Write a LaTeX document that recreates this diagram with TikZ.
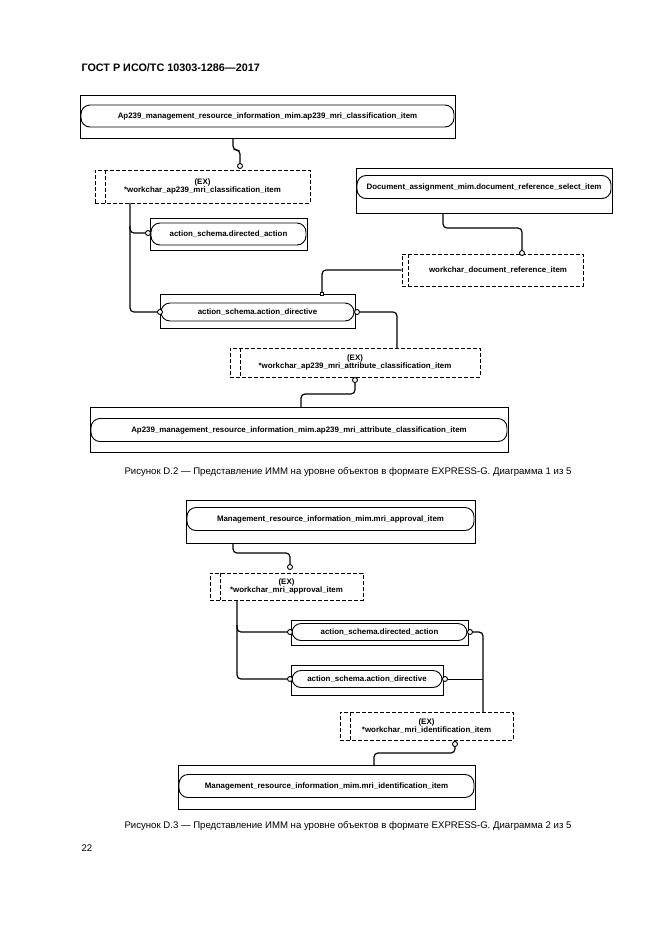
\documentclass[tikz,border=0pt]{standalone}
\usepackage{fontspec}
\setmainfont{Liberation Sans}
\begin{document}
\begin{tikzpicture}[x=1pt,y=-1pt,
  box/.style={draw,line width=0.9pt,inner sep=0pt},
  pill/.style={draw,line width=0.9pt,rounded corners=9pt,inner sep=0pt,font=\fontsize{7.9}{8}\selectfont\bfseries},
  exbox/.style={draw,dashed,dash pattern=on 4pt off 2pt,line width=0.8pt,inner sep=0pt,align=center,font=\fontsize{7.9}{8.5}\selectfont\bfseries},
  exline/.style={dashed,dash pattern=on 4pt off 2pt,line width=0.8pt},
  con/.style={line width=1.2pt,rounded corners=4pt},
  thin/.style={line width=0.8pt},
  dot/.style={circle,draw,fill=white,line width=0.9pt,inner sep=0pt,minimum size=5pt},
  sq/.style={rectangle,draw,fill=white,line width=0.7pt,inner sep=0pt,minimum size=3.5pt},
  captxt/.style={font=\fontsize{9.6}{11}\selectfont}]
\useasboundingbox (0,0) rectangle (661,935);
\fill[white] (0,0) rectangle (661,935);
\node[anchor=west,font=\fontsize{10.8}{12}\selectfont\bfseries] (hdr) at (78,68) {ГОСТ Р ИСО/ТС 10303-1286—2017};
\node[anchor=west,captxt] (pg) at (78,848) {22};

% ---------- Diagram 1
\node[box,minimum width=375,minimum height=43] (A) at (267.5,116.5) {};
\node[pill,minimum width=373,minimum height=22] (Ap) at (267.5,116) {Ap239\_management\_resource\_information\_mim.ap239\_mri\_classification\_item};

\node[exbox,minimum width=215,minimum height=33] (E1) at (202.5,186.5) {(EX)\\*workchar\_ap239\_mri\_classification\_item};
\draw[exline] (105,170) -- (105,203);
\node[dot] (d1) at (240,166) {};
\draw[con] (233,138) |- (240,150) -- (d1.north);

\node[box,minimum width=157,minimum height=32] (B) at (228.5,234) {};
\node[pill,minimum width=155,minimum height=22] (Bp) at (228.5,234) {action\_schema.directed\_action};

\node[box,minimum width=256,minimum height=45] (C) at (484,190.5) {};
\node[pill,minimum width=254,minimum height=23] (Cp) at (484,187) {Document\_assignment\_mim.document\_reference\_select\_item};

\node[exbox,minimum width=181,minimum height=32] (W) at (492.5,270) {};
\node[font=\fontsize{7.9}{8.5}\selectfont\bfseries] (Wt) at (498,270) {workchar\_document\_reference\_item};
\draw[exline] (408,254) -- (408,286);
\node[dot] (d2) at (522,253) {};
\draw[con] (443,213) |- (522,228) -- (d2.north);

\node[box,minimum width=195,minimum height=34] (D) at (257.5,311) {};
\node[pill,minimum width=193,minimum height=18] (Dp) at (257.5,312) {action\_schema.action\_directive};
\node[sq] (s1) at (322,294) {};
\draw[con] (W.west) -| (s1.north);

\node[dot] (d3) at (160,312) {};
\node[dot] (d4) at (148,233) {};
\draw[con] (130,203) |- (d3.west);
\draw[con] (130,226) |- (d4.west);
\node[dot] (d5) at (357,312) {};

\node[exbox,minimum width=250,minimum height=29] (E2) at (355,362.5) {(EX)\\*workchar\_ap239\_mri\_attribute\_classification\_item};
\draw[exline] (240,348) -- (240,377);
\draw[con] (d5.east) -| (397,348);

\node[box,minimum width=418,minimum height=45] (F) at (299,429.5) {};
\node[pill,minimum width=416,minimum height=23] (Fp) at (299,430) {Ap239\_management\_resource\_information\_mim.ap239\_mri\_attribute\_classification\_item};
\node[dot] (d6) at (355,380) {};
\draw[con] (d6.south) |- (301,394) -- (301,407);

\node[captxt] (cap1) at (348,472) {Рисунок D.2 — Представление ИММ на уровне объектов в формате EXPRESS-G. Диаграмма 1 из 5};

% ---------- Diagram 2
\node[box,minimum width=289,minimum height=43] (M1) at (330.5,521.5) {};
\node[pill,minimum width=287,minimum height=23] (M1p) at (330.5,519) {Management\_resource\_information\_mim.mri\_approval\_item};

\node[exbox,minimum width=153,minimum height=27] (E3) at (286.5,586.5) {(EX)\\*workchar\_mri\_approval\_item};
\draw[exline] (220,573) -- (220,600);
\node[dot] (d7) at (290,567) {};
\draw[con] (233,543) |- (290,553) -- (d7.north);

\node[box,minimum width=177,minimum height=25] (G) at (379.5,632.5) {};
\node[pill,minimum width=175,minimum height=17] (Gp) at (379.5,632) {action\_schema.directed\_action};
\node[box,minimum width=152,minimum height=30] (H) at (367,680) {};
\node[pill,minimum width=150,minimum height=17] (Hp) at (367,679) {action\_schema.action\_directive};

\node[dot] (d8) at (290,632) {};
\node[dot] (d9) at (290,679) {};
\draw[con] (237,600) |- (d9.west);
\draw[con] (237,625) |- (d8.west);
\node[dot] (d10) at (470,632) {};
\node[dot] (d11) at (445,679) {};

\node[exbox,minimum width=173,minimum height=28] (E4) at (426.5,726) {(EX)\\*workchar\_mri\_identification\_item};
\draw[exline] (350,712) -- (350,740);
\draw[con] (d10.east) -| (483,712);
\draw[thin] (d11.east) -- (483,679);

\node[box,minimum width=297,minimum height=44] (M2) at (326.5,787) {};
\node[pill,minimum width=295,minimum height=23] (M2p) at (326.5,786) {Management\_resource\_information\_mim.mri\_identification\_item};
\node[dot] (d12) at (455,744) {};
\draw[con] (d12.south) |- (374,753) -- (374,765);

\node[captxt] (cap2) at (348,826) {Рисунок D.3 — Представление ИММ на уровне объектов в формате EXPRESS-G. Диаграмма 2 из 5};
\end{tikzpicture}
\end{document}
